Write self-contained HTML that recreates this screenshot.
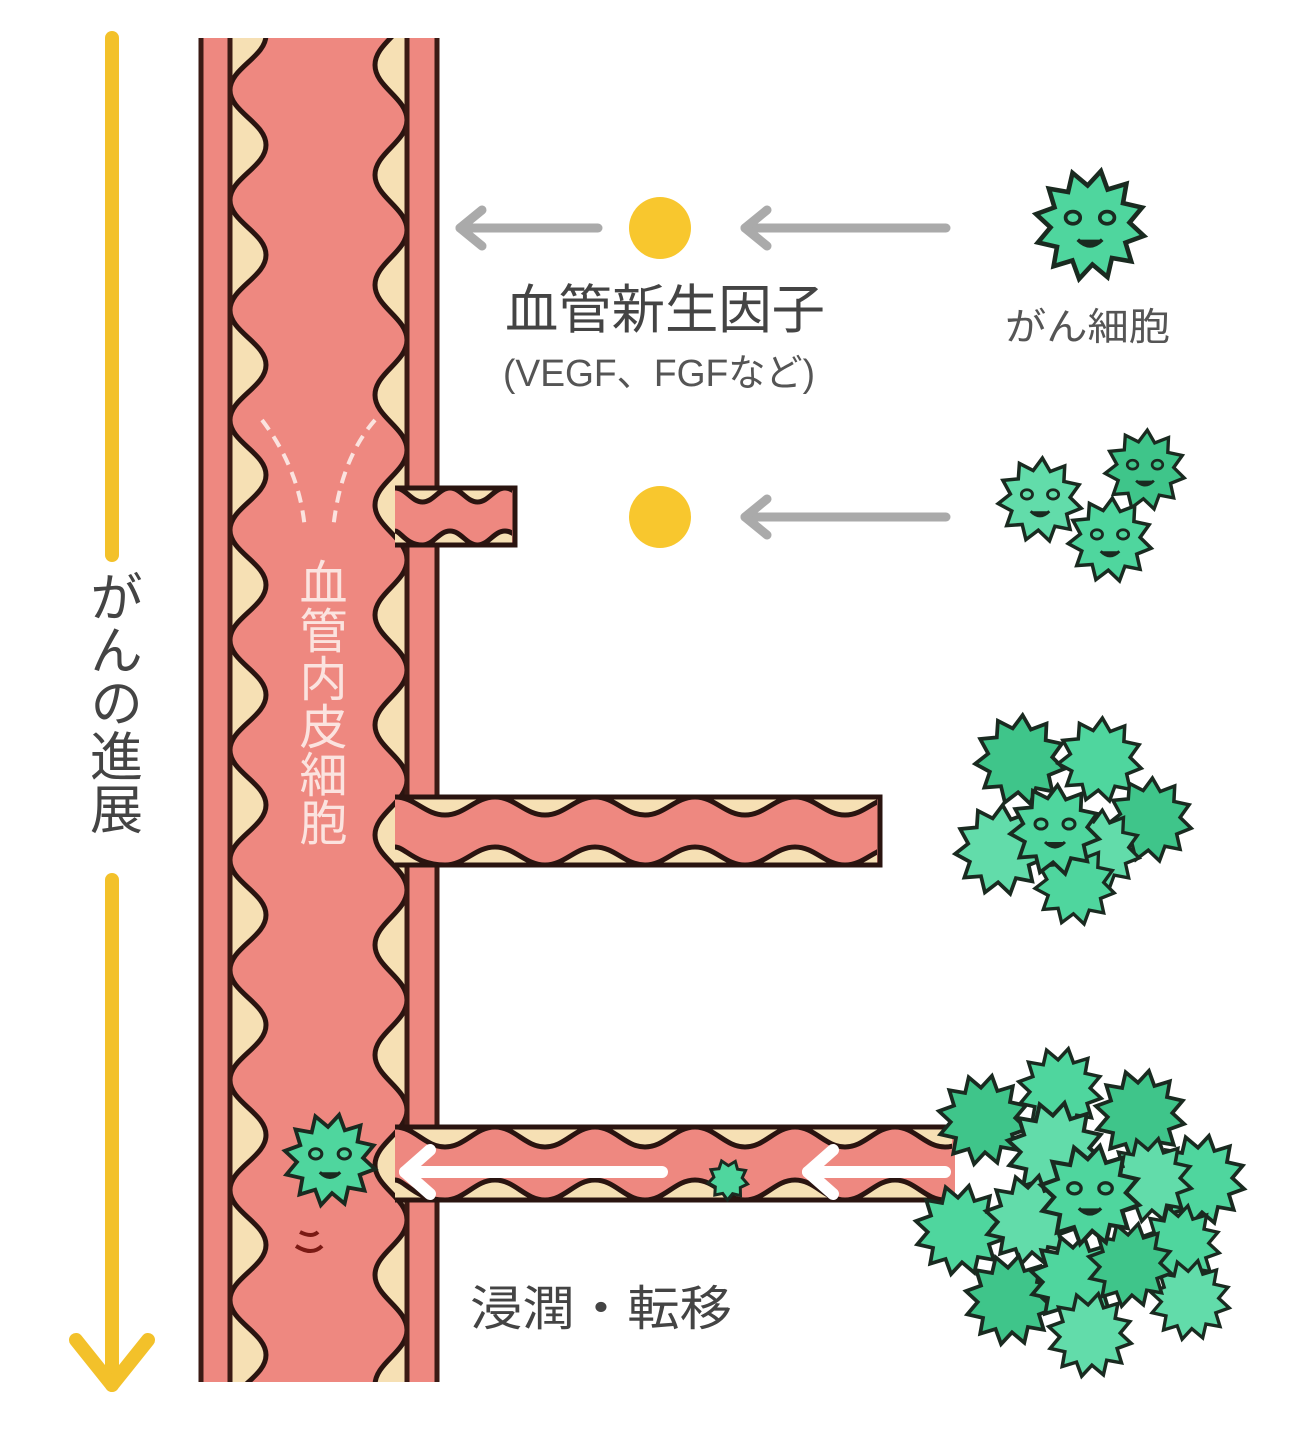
<!DOCTYPE html>
<html><head><meta charset="utf-8"><style>
html,body{margin:0;padding:0;background:#fff;}
svg{display:block;}
text{font-family:"Liberation Sans","Noto Sans CJK JP",sans-serif;}
</style></head><body>
<svg id="s" width="1300" height="1435" viewBox="0 0 1300 1435" xmlns="http://www.w3.org/2000/svg">
<g stroke="#f3c12a" stroke-width="14" stroke-linecap="round" fill="none">
<line x1="112" y1="38" x2="112" y2="555"/>
<line x1="112" y1="880" x2="112" y2="1385"/>
<polyline points="76,1340 112,1385 148,1340" stroke-linejoin="round"/>
</g>
<text x="112" y="570" font-size="53" fill="#444" style="writing-mode:vertical-rl">がんの進展</text>

<rect x="200" y="38" width="238" height="1344" fill="#ee8880"/>
<g id="waves"></g>
<g stroke="#3a1a14" stroke-width="5">
<line x1="201" y1="38" x2="201" y2="1382"/>
<line x1="230" y1="38" x2="230" y2="1382"/>
<line x1="437" y1="38" x2="437" y2="1382"/>
<line x1="407" y1="38" x2="407" y2="1382"/>
</g>
<g id="branches"></g>

<g stroke="#fbe3df" stroke-width="4" stroke-dasharray="12 8" fill="none">
<path d="M262,420 Q300,470 305,530"/>
<path d="M375,420 Q340,460 333,530"/>
</g>
<text x="318" y="558" font-size="48" fill="#fbe3df" style="writing-mode:vertical-rl">血管内皮細胞</text>

<g stroke="#aaa" stroke-width="9" fill="none" stroke-linecap="round" stroke-linejoin="round">
<line x1="460" y1="228" x2="598" y2="228"/><polyline points="482,210 460,228 482,246"/>
<line x1="745" y1="228" x2="946" y2="228"/><polyline points="767,210 745,228 767,246"/>
<line x1="745" y1="517" x2="946" y2="517"/><polyline points="767,499 745,517 767,535"/>
</g>
<circle cx="660" cy="228" r="31" fill="#f8c72e"/>
<circle cx="660" cy="517" r="31" fill="#f8c72e"/>

<text x="505" y="328" font-size="53" fill="#444" textLength="320" lengthAdjust="spacingAndGlyphs">血管新生因子</text>
<text x="503" y="386" font-size="38" fill="#555" textLength="312" lengthAdjust="spacingAndGlyphs">(VEGF、FGFなど)</text>
<text x="1005" y="340" font-size="38" fill="#555" textLength="165" lengthAdjust="spacingAndGlyphs">がん細胞</text>
<text x="470" y="1325" font-size="48" fill="#444" textLength="262" lengthAdjust="spacingAndGlyphs">浸潤・転移</text>

<g id="cells"></g>
<path d="M300,1232 q12,6 18,0 M296,1246 q16,10 26,0" stroke="#7a1a14" stroke-width="4" fill="none"/>
</svg>
<script>
var NS="http://www.w3.org/2000/svg";
function el(p,t,a){var e=document.createElementNS(NS,t);for(var k in a)e.setAttribute(k,a[k]);p.appendChild(e);return e;}
var W=document.getElementById('waves');
var cream="#f6e0b4", ink="#2a1410";
// smooth vertical wave: x0 = wall, dx = amplitude (signed), starting at y0
function vwave(x0,dx,y0,y1,per){
  var d="M"+x0+","+y0,y=y0,h=per/2;
  while(y<y1){
    d+=" C"+x0+","+(y+h*0.4)+" "+(x0+dx)+","+(y+h*0.6)+" "+(x0+dx)+","+(y+h);
    d+=" C"+(x0+dx)+","+(y+h*1.4)+" "+x0+","+(y+h*1.6)+" "+x0+","+(y+per);
    y+=per;
  }
  return d;
}
function hwave(y0,dy,x0,x1,per){
  var d="M"+x0+","+y0,x=x0,h=per/2;
  while(x<x1){
    d+=" C"+(x+h*0.4)+","+y0+" "+(x+h*0.6)+","+(y0+dy)+" "+(x+h)+","+(y0+dy);
    d+=" C"+(x+h*1.4)+","+(y0+dy)+" "+(x+h*1.6)+","+y0+" "+(x+per)+","+y0;
    x+=per;
  }
  return d;
}
var d=vwave(230,36,-20,1382,110);
el(W,'path',{d:d+" L230,-20 Z",fill:cream});
el(W,'path',{d:d,fill:"none",stroke:ink,"stroke-width":5});
d=vwave(407,-32,10,1382,110);
el(W,'path',{d:d+" L407,10 Z",fill:cream});
el(W,'path',{d:d,fill:"none",stroke:ink,"stroke-width":5});
el(W,'rect',{x:195,y:0,width:250,height:38,fill:"#fff"});
el(W,'rect',{x:195,y:1382,width:250,height:60,fill:"#fff"});

var B=document.getElementById('branches');
function branch(y1,y2,x2,amp,per,cap){
  el(B,'rect',{x:395,y:y1,width:x2-395,height:y2-y1,fill:"#ee8880"});
  var g=el(B,'g',{});
  var cp=el(g,'clipPath',{id:"c"+y1});el(cp,'rect',{x:395,y:y1,width:x2-395-3,height:y2-y1});
  var gg=el(g,'g',{"clip-path":"url(#c"+y1+")"});
  var d1=hwave(y1,amp,395,x2,per);
  el(gg,'path',{d:d1+" L395,"+y1+" Z",fill:cream});
  el(gg,'path',{d:d1,fill:"none",stroke:ink,"stroke-width":5});
  var d2=hwave(y2,-amp,395+per/2,x2,per);
  d2="M395,"+(y2-amp)+" C"+(395+per*0.1)+","+(y2-amp)+" "+(395+per*0.2)+","+y2+" "+(395+per/2)+","+y2+" "+d2.replace(/^M[^ ]+/,"");
  el(gg,'path',{d:d2+" L395,"+y2+" Z",fill:cream});
  el(gg,'path',{d:d2,fill:"none",stroke:ink,"stroke-width":5});
  el(B,'line',{x1:395,y1:y1,x2:x2,y2:y1,stroke:ink,"stroke-width":5});
  el(B,'line',{x1:395,y1:y2,x2:x2,y2:y2,stroke:ink,"stroke-width":5});
  if(cap) el(B,'path',{d:"M"+(x2-6)+","+y1+" L"+x2+","+y1+" L"+x2+","+y2+" L"+(x2-6)+","+y2,fill:"none",stroke:ink,"stroke-width":5});
}
branch(488,545,515,14,55,true);
branch(797,865,880,18,100,true);
branch(1127,1200,955,20,100,false);
var g=el(B,'g',{stroke:"#fff","stroke-width":12,fill:"none","stroke-linecap":"round","stroke-linejoin":"round"});
el(g,'line',{x1:405,y1:1172,x2:662,y2:1172});el(g,'polyline',{points:"430,1150 405,1172 430,1194"});
el(g,'line',{x1:808,y1:1172,x2:945,y2:1172});el(g,'polyline',{points:"833,1150 808,1172 833,1194"});

var C=document.getElementById('cells');
function star(cx,cy,r,n,fill,face){
  var p=[];for(var i=0;i<n*2;i++){var a=Math.PI*i/n+0.2;var rr=i%2?r*0.72:r;p.push((cx+rr*Math.cos(a)).toFixed(1)+","+(cy+rr*Math.sin(a)).toFixed(1));}
  el(C,'polygon',{points:p.join(" "),fill:fill||"#4fd69e",stroke:"#1a2a20","stroke-width":Math.max(3,r/12),"stroke-linejoin":"miter"});
  if(face){var s=r/45;
    el(C,'ellipse',{cx:cx-14*s,cy:cy-6*s,rx:6*s,ry:5*s,fill:"none",stroke:"#1a2a20","stroke-width":3*s});
    el(C,'ellipse',{cx:cx+14*s,cy:cy-6*s,rx:6*s,ry:5*s,fill:"none",stroke:"#1a2a20","stroke-width":3*s});
    el(C,'path',{d:"M"+(cx-10*s)+","+(cy+12*s)+" q"+(10*s)+","+(10*s)+" "+(20*s)+",0",fill:"#1a2a20",stroke:"#1a2a20","stroke-width":3*s});
  }
}
var g1="#4fd69e",g2="#3fc58a",g3="#62dcaa";
star(1090,225,55,12,g1,true);
star(1040,500,42,11,g3,true);star(1145,470,40,11,g2,true);star(1110,540,42,11,g1,true);
[[1020,760,45,g2],[1100,760,42,g1],[1150,820,42,g2],[1000,850,45,g3],[1100,850,40,g3],[1075,885,40,g1],[1055,830,45,g1]].forEach(function(a){star(a[0],a[1],a[2],11,a[3],a[0]==1055);});
[[983,1120,45,g2],[1060,1090,42,g1],[1140,1115,45,g2],[1200,1180,45,g1],[1055,1150,48,g3],[1150,1180,42,g3],[960,1230,45,g1],[1030,1220,45,g3],[1180,1245,40,g1],[1190,1300,40,g3],[1010,1300,45,g2],[1075,1280,45,g1],[1130,1265,42,g2],[1090,1335,42,g3],[1090,1195,50,g1]].forEach(function(a){star(a[0],a[1],a[2],12,a[3],a[0]==1090&&a[1]==1195);});
star(728,1180,20,9,g1,false);
star(330,1160,46,12,g1,true);
</script>
</body></html>
